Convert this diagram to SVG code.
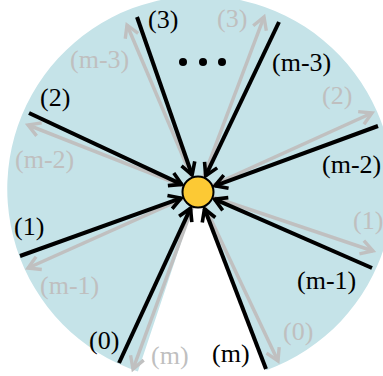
<svg xmlns="http://www.w3.org/2000/svg" width="383" height="376" viewBox="0 0 383 376">
<style>
.bk{stroke:#000;stroke-width:4;fill:none;marker-end:url(#ab)}
.gy{stroke:#c0c0c0;stroke-width:3.5;fill:none;marker-end:url(#ag)}
.t{font-family:"Liberation Serif","Times New Roman",serif;font-size:26px}
.tb{fill:#000}
.tg{fill:#bfbfbf}
</style>
<defs>
<marker id="ab" viewBox="0 0 16 16" markerWidth="16" markerHeight="16" refX="14" refY="8" orient="auto" markerUnits="userSpaceOnUse" overflow="visible">
<path d="M2,1 L14,8 L2,15" fill="none" stroke="#000" stroke-width="3.6"/>
</marker>
<marker id="ag" viewBox="0 0 16 16" markerWidth="16" markerHeight="16" refX="14" refY="8" orient="auto" markerUnits="userSpaceOnUse" overflow="visible">
<path d="M2,1 L14,8 L2,15" fill="none" stroke="#c0c0c0" stroke-width="3.4"/>
</marker>
</defs>
<g id="disc">
<path d="M198,192 L137.9,371.6 A193,193 0 1 1 266.3,370.3 Z" fill="#c5e3e8"/>
</g>
<g id="connectors">
<line class="gy" x1="192.5" y1="179.1" x2="127" y2="25"/>
<line class="gy" x1="185" y1="186.9" x2="28" y2="125"/>
<line class="gy" x1="185.2" y1="197.7" x2="28" y2="268"/>
<line class="gy" x1="193.2" y1="205.1" x2="133" y2="369"/>
<line class="gy" x1="204" y1="204.7" x2="278" y2="361"/>
<line class="gy" x1="211.3" y1="196.5" x2="373" y2="251"/>
<line class="gy" x1="210.8" y1="186.2" x2="372" y2="113"/>
<line class="gy" x1="202.9" y1="178.9" x2="264" y2="17"/>
<line class="bk" x1="137" y1="17" x2="192.1" y2="175"/>
<line class="bk" x1="29" y1="113" x2="181.7" y2="184.4"/>
<line class="bk" x1="20" y1="256" x2="181.1" y2="198.1"/>
<line class="bk" x1="119" y1="363" x2="190.5" y2="208.3"/>
<line class="bk" x1="266" y1="369" x2="204.5" y2="208.8"/>
<line class="bk" x1="372" y1="268" x2="214.5" y2="199.2"/>
<line class="bk" x1="378" y1="126" x2="214.9" y2="185.8"/>
<line class="bk" x1="279" y1="22" x2="205.7" y2="175.7"/>
</g>
<g id="center">
<circle cx="198" cy="192" r="15.5" fill="#fcc934" stroke="#000" stroke-width="2"/>
</g>
<g id="ellipsis">
<circle cx="183" cy="62" r="4" fill="#000"/>
<circle cx="203" cy="62" r="4" fill="#000"/>
<circle cx="222" cy="62" r="4" fill="#000"/>
</g>
<g id="labels">
<text class="t tb" x="148" y="28">(3)</text>
<text class="t tb" x="40" y="106">(2)</text>
<text class="t tb" x="14" y="235">(1)</text>
<text class="t tb" x="89" y="349">(0)</text>
<text class="t tb" x="212" y="362">(m)</text>
<text class="t tb" x="297" y="289">(m-1)</text>
<text class="t tb" x="322" y="173">(m-2)</text>
<text class="t tb" x="272" y="71">(m-3)</text>
<text class="t tg" x="70" y="68">(m-3)</text>
<text class="t tg" x="15" y="168">(m-2)</text>
<text class="t tg" x="40" y="294">(m-1)</text>
<text class="t tg" x="151" y="364">(m)</text>
<text class="t tg" x="283" y="340">(0)</text>
<text class="t tg" x="353" y="229">(1)</text>
<text class="t tg" x="322" y="104">(2)</text>
<text class="t tg" x="217" y="27">(3)</text>
</g>
</svg>
